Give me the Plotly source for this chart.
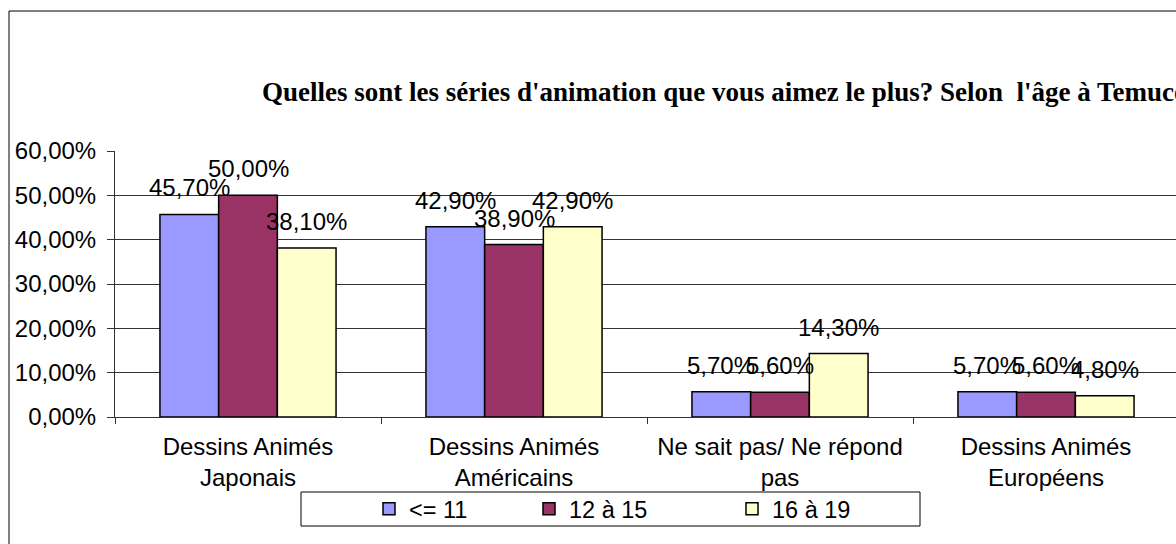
import plotly.graph_objects as go

categories = ["Dessins Animés<br>Japonais", "Dessins Animés<br>Américains",
              "Ne sait pas/ Ne répond<br>pas", "Dessins Animés<br>Européens"]
series_names = ["<= 11", "12 à 15", "16 à 19"]
values_le11 = [45.7, 42.9, 5.7, 5.7]
values_12_15 = [50.0, 38.9, 5.6, 5.6]
values_16_19 = [38.1, 42.9, 14.3, 4.8]
y_ticks = [0, 10, 20, 30, 40, 50, 60]
title_text = "Quelles sont les séries d'animation que vous aimez le plus? Selon  l'âge à Temuco"

all_values = [values_le11, values_12_15, values_16_19]
colors = ["#9999FF", "#993366", "#FFFFCC"]

W, H = 1176, 544
ML, MR, MT, MB = 115, 0, 151, 127
PW = W - ML - MR
PH = H - MT - MB
CAT_PX = 266
BARGAP = 0.338
BAR_PX = CAT_PX * (1 - BARGAP) / 3

def px_x(p):
    return (p - ML) / PW

def px_y(p):
    return (H - MB - p) / PH

def pct(v):
    return ("%.2f" % v).replace(".", ",") + "%"

SANS = "Liberation Sans, Arial, sans-serif"
SERIF = "Liberation Serif, Times New Roman, serif"

fig = go.Figure()
legend_ids = ["legend", "legend2", "legend3"]
for i, (name, vals) in enumerate(zip(series_names, all_values)):
    fig.add_trace(go.Bar(
        x=categories, y=vals, name=name,
        marker=dict(color=colors[i], line=dict(color="#000000", width=1.5)),
        legend=legend_ids[i],
        hoverinfo="skip",
    ))

annotations = []
for i, vals in enumerate(all_values):
    for c, v in zip(categories, vals):
        annotations.append(dict(
            x=c, y=v, xref="x", yref="y",
            text=pct(v),
            showarrow=False, xanchor="center", yanchor="bottom",
            xshift=(i - 1) * BAR_PX, yshift=11,
            font=dict(family=SANS, size=24, color="#000000"),
        ))

fig.update_layout(
    width=W, height=H,
    margin=dict(l=ML, r=MR, t=MT, b=MB, pad=0),
    paper_bgcolor="#FFFFFF", plot_bgcolor="#FFFFFF",
    barmode="group", bargap=BARGAP, bargroupgap=0,
    showlegend=True,
    title=dict(text="<b>" + title_text + "</b>", x=262 / W, xanchor="left",
               y=1 - 92 / H, yanchor="middle",
               font=dict(family=SERIF, size=27, color="#000000")),
    xaxis=dict(range=[-0.5, -0.5 + PW / CAT_PX], showline=True, linecolor="#333333",
               linewidth=1, ticks="outside", tickson="boundaries", ticklen=6,
               tickcolor="#333333", showgrid=False, ticklabelstandoff=8,
               tickfont=dict(family=SANS, size=24, color="#000000"), fixedrange=True),
    yaxis=dict(range=[0, 60], tickmode="array", tickvals=y_ticks,
               ticktext=[pct(t) for t in y_ticks],
               showline=True, linecolor="#333333", linewidth=1, ticks="outside",
               ticklen=7, tickcolor="#333333", showgrid=True, gridcolor="#333333",
               gridwidth=1, zeroline=False, ticklabelstandoff=6,
               tickfont=dict(family=SANS, size=24, color="#000000"), fixedrange=True),
    annotations=annotations,
    shapes=[
        dict(type="rect", xref="paper", yref="paper",
             x0=px_x(9), x1=px_x(W + 20), y0=px_y(H + 20), y1=px_y(11),
             line=dict(color="#000000", width=1), fillcolor="rgba(0,0,0,0)", layer="below"),
        dict(type="rect", xref="paper", yref="paper",
             x0=px_x(301), x1=px_x(920), y0=px_y(526), y1=px_y(492),
             line=dict(color="#000000", width=1), fillcolor="#FFFFFF", layer="above"),
    ],
)

legend_starts = [369, 529, 732]
common_leg = dict(orientation="h", xanchor="left", yanchor="middle", y=px_y(509),
                  bgcolor="rgba(0,0,0,0)", borderwidth=0,
                  font=dict(family=SANS, size=23.5, color="#000000"))
fig.update_layout(
    legend=dict(x=px_x(legend_starts[0]), **common_leg),
    legend2=dict(x=px_x(legend_starts[1]), **common_leg),
    legend3=dict(x=px_x(legend_starts[2]), **common_leg),
)

fig.write_html("out.html", config={"displayModeBar": False},
               post_script="document.body.style.margin='0';")
